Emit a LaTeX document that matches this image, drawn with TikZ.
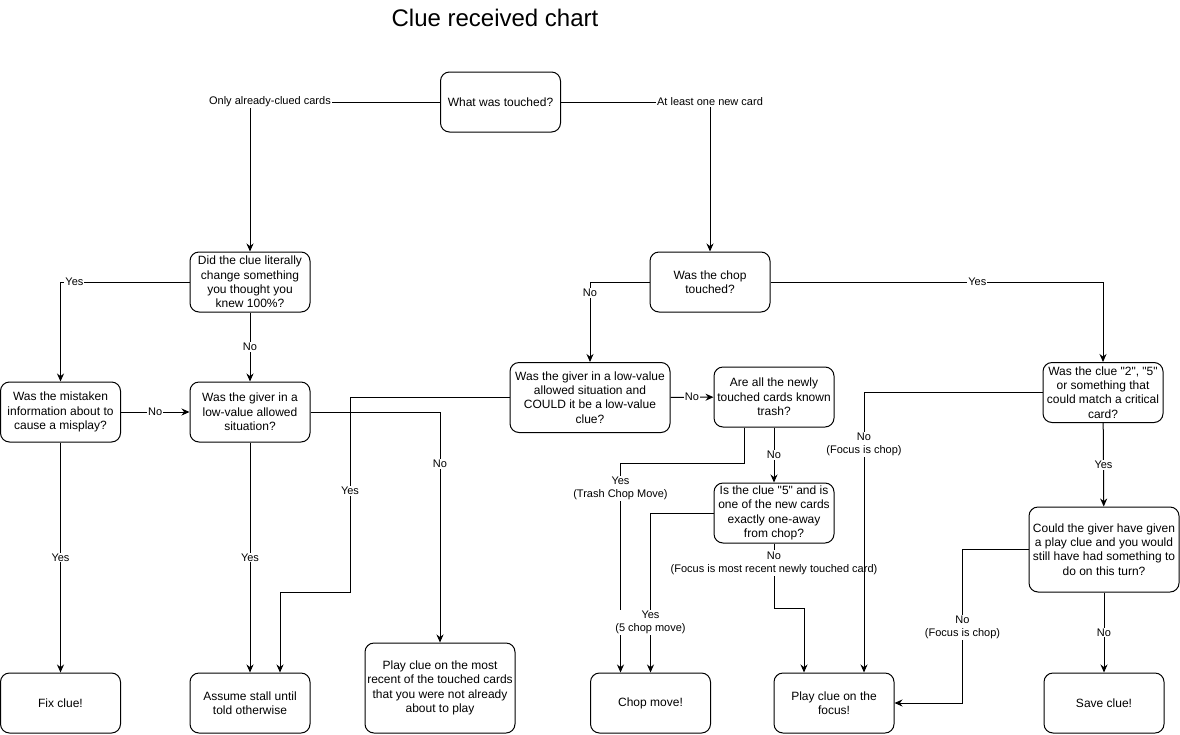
\documentclass[tikz,border=0pt]{standalone}
\usepackage{fontspec}
\setmainfont{Liberation Sans}
\usetikzlibrary{arrows.meta}

\begin{document}
\begin{tikzpicture}[x=1pt,y=-1pt]
            \tikzstyle{every node}+=[inner sep=0pt]
            \tikzstyle{box}=[draw=black, line width=1pt, rounded corners=9pt, minimum width=120pt, minimum height=60pt, align=center, font=\fontsize{12}{14.4}\selectfont]
            \tikzstyle{lbl}=[fill=white, inner sep=1pt, align=center, font=\fontsize{11}{13.2}\selectfont]
            \tikzstyle{arr}=[black, line width=1pt, -{Stealth[length=8pt,width=7pt]}]
            \useasboundingbox (0,0) rectangle (1180,734);
            \node [font=\fontsize{24}{28}\selectfont] (title) at (495,18) {Clue received chart};
            \node [box] (what) at (500.5,102) {What was touched?};
            \node [box] (did) at (250,282) {Did the clue literally\\change something\\you thought you\\knew 100\%?};
            \node [box] (chop) at (710,282) {Was the chop\\touched?};
            \node [box] (mist) at (60.5,412) {Was the mistaken\\information about to\\cause a misplay?};
            \node [box] (giver) at (250,412) {Was the giver in a\\low-value allowed\\situation?};
            \node [box, minimum width=160pt, minimum height=70pt] (low) at (590,397.5) {Was the giver in a low-value\\allowed situation and\\COULD it be a low-value\\clue?};
            \node [box] (trash) at (774,397) {Are all the newly\\touched cards known\\trash?};
            \node [box] (five) at (774,513) {Is the clue \textquotedbl5\textquotedbl{} and is\\one of the new cards\\exactly one-away\\from chop?};
            \node [box] (crit) at (1103,392.5) {Was the clue \textquotedbl2\textquotedbl, \textquotedbl5\textquotedbl\\or something that\\could match a critical\\card?};
            \node [box, minimum width=150pt, minimum height=85pt] (could) at (1104,549.5) {Could the giver have given\\a play clue and you would\\still have had something to\\do on this turn?};
            \node [box] (fix) at (60.5,703) {Fix clue!};
            \node [box] (stall) at (250,703) {Assume stall until\\told otherwise};
            \node [box, minimum width=150pt, minimum height=90pt] (recent) at (440,688) {Play clue on the most\\recent of the touched cards\\that you were not already\\about to play};
            \node [box] (chopmove) at (650.5,703) {Chop move!};
            \node [box] (focus) at (834,703) {Play clue on the\\focus!};
            \node [box] (save) at (1104,703) {Save clue!};
            \draw [arr] (what.west) -| node [lbl, pos=0.4475] (l1) {Only already-clued cards} (did.north);
            \draw [arr] (what.east) -| node [lbl, pos=0.5] (l2) {At least one new card} (chop.north);
            \draw [arr] (did.west) -| node [lbl, pos=0.446] (l3) {Yes} (mist.north);
            \draw [arr] (did) -- node [lbl] (l4) {No} (giver);
            \draw [arr] (mist) -- node [lbl] (l5) {No} (giver);
            \draw [arr] (mist) -- node [lbl] (l6) {Yes} (fix);
            \draw [arr] (giver) -- node [lbl] (l7) {Yes} (stall);
            \draw [arr] (giver.east) -| node [lbl, pos=0.6125] (l8) {No} (recent.north);
            \draw [arr] (low.west) -| node [lbl, pos=0.741] (l9) {Yes} (350,592) -| ([xshift=30pt]stall.north);
            \draw [arr] (chop.west) -| node [lbl, pos=0.569] (l10) {No} (low.north);
            \draw [arr] (chop.east) -| node [lbl, pos=0.311] (l11) {Yes} (crit.north);
            \draw [arr] (low) -- node [lbl] (l12) {No} (trash);
            \draw [arr] ([xshift=-30pt]trash.south) -- ++(0,36) -| node [lbl, pos=0.56] (l13) {Yes\\(Trash Chop Move)} ([xshift=-30pt]chopmove.north);
            \draw [arr] (trash) -- node [lbl] (l14) {No} (five);
            \draw [arr] (five.west) -| node [lbl, pos=0.843] (l15) {Yes\\(5 chop move)} (chopmove.north);
            \draw [arr] (five.south) -- node [lbl, pos=0.3] (l16) {No\\(Focus is most recent newly touched card)} ++(0,65) -| ([xshift=-30pt]focus.north);
            \draw [arr] (crit.west) -| node [lbl, pos=0.592] (l17) {No\\(Focus is chop)} ([xshift=30pt]focus.north);
            \draw [arr] (crit) -- node [lbl] (l18) {Yes} (could);
            \draw [arr] (could.west) -- ++(-66,0) |- node [lbl, pos=0.254] (l19) {No\\(Focus is chop)} (focus.east);
            \draw [arr] (could) -- node [lbl] (l20) {No} (save);
        \end{tikzpicture}
\end{document}
